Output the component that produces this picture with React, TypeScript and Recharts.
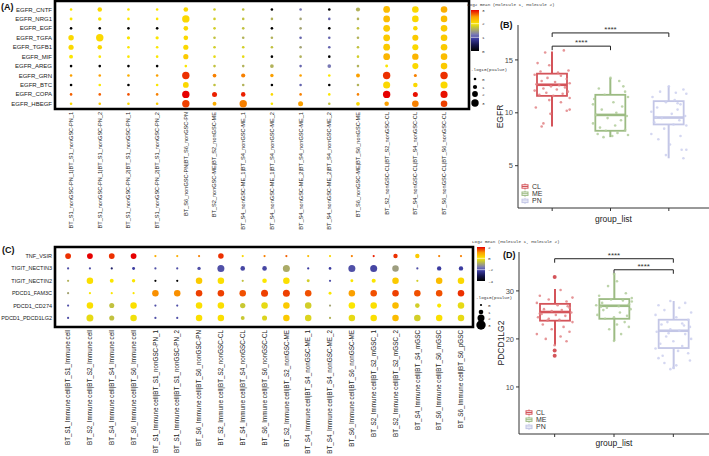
import React from 'react';
import {
  ScatterChart,
  Scatter,
  XAxis,
  YAxis,
  ReferenceArea,
  ComposedChart,
  Bar,
  ReferenceLine,
  ReferenceDot,
} from 'recharts';

const FONT = '"Liberation Sans", Arial, sans-serif';
const MONO = '"Liberation Mono", "DejaVu Sans Mono", monospace';

// ---- panel A: EGFR ligand pairs x nonGSC cluster pairs ----
const EGFR_PAIRS = [
  'EGFR_CNTF', 'EGFR_NRG1', 'EGFR_EGF', 'EGFR_TGFA', 'EGFR_TGFB1', 'EGFR_MIF',
  'EGFR_AREG', 'EGFR_GRN', 'EGFR_BTC', 'EGFR_COPA', 'EGFR_HBEGF',
];
const NONGSC_CLUSTERS = [
  'BT_S1_nonGSC-PN_1|BT_S1_nonGSC-PN_1',
  'BT_S1_nonGSC-PN_1|BT_S1_nonGSC-PN_2',
  'BT_S1_nonGSC-PN_2|BT_S1_nonGSC-PN_1',
  'BT_S1_nonGSC-PN_2|BT_S1_nonGSC-PN_2',
  'BT_S6_nonGSC-PN|BT_S6_nonGSC-PN',
  'BT_S2_nonGSC-ME|BT_S2_nonGSC-ME',
  'BT_S4_nonGSC-ME_1|BT_S4_nonGSC-ME_1',
  'BT_S4_nonGSC-ME_1|BT_S4_nonGSC-ME_2',
  'BT_S4_nonGSC-ME_2|BT_S4_nonGSC-ME_1',
  'BT_S4_nonGSC-ME_2|BT_S4_nonGSC-ME_2',
  'BT_S6_nonGSC-ME|BT_S6_nonGSC-ME',
  'BT_S2_nonGSC-CL|BT_S2_nonGSC-CL',
  'BT_S4_nonGSC-CL|BT_S4_nonGSC-CL',
  'BT_S6_nonGSC-CL|BT_S6_nonGSC-CL',
];
// log2 mean (colour), one row per pair
const EGFR_MEAN = [
  [2.0, 2.1, 2.0, 2.0, 2.1, 1.8, 1.7, 0, 1.2, 0, 1.6, 2.3, 2.1, 2.4],
  [2.0, 2.0, 2.0, 2.0, 2.1, 1.8, 1.7, 1.6, 1.5, 1.1, 1.6, 2.3, 2.1, 2.3],
  [0, 0, 0, 0, 2.1, 1.8, 1.7, 0, 1.5, 0, 1.7, 2.2, 2.1, 2.2],
  [2.1, 2.1, 2.0, 2.0, 2.1, 1.7, 1.6, 1.6, 1.1, 1.1, 1.6, 2.2, 2.2, 2.2],
  [2.1, 2.1, 2.0, 2.0, 2.1, 1.8, 1.8, 1.7, 1.5, 1.1, 1.7, 2.2, 2.1, 2.2],
  [2.0, 2.0, 2.0, 2.0, 2.2, 1.9, 1.9, 0, 1.6, 0, 1.8, 2.35, 2.35, 2.3],
  [0, 0, 0, 0, 2.0, 1.7, 1.6, 1.6, 1.1, 1.2, 1.6, 2.0, 2.1, 2.2],
  [2.5, 2.5, 2.4, 2.5, 2.85, 2.6, 2.6, 2.5, 2.5, 2.0, 2.5, 2.85, 2.6, 2.85],
  [0, 2.0, 0, 2.0, 2.1, 1.7, 1.6, 0, 1.1, 0, 1.6, 2.1, 2.1, 2.1],
  [2.7, 2.7, 2.75, 2.6, 3.0, 2.9, 2.9, 2.1, 2.6, 2.0, 2.6, 3.0, 2.95, 2.95],
  [2.1, 2.2, 2.1, 2.2, 2.8, 2.4, 2.6, 2.0, 2.5, 1.7, 2.1, 2.5, 2.6, 2.8],
];
// -log10(pvalue) (size)
const EGFR_PVAL = [
  [0, 1.2, 0, 0, 1.3, 0, 0, 0, 0, 0, 1, 2.6, 2.5, 2.5],
  [0.2, 0.6, 0, 0, 3, 0, 0, 0, 0, 0, 0, 2.6, 2.5, 2.5],
  [0, 0, 0, 0, 1.3, 0, 0, 0, 0, 0, 0, 2.6, 1.2, 2.5],
  [1.8, 3, 0.4, 0.4, 1.3, 0, 0, 0, 0, 0, 0, 2.6, 2.2, 2.5],
  [1.6, 1.2, 0, 0, 1.6, 0, 0, 0, 0, 0, 0, 2.6, 2.2, 2.5],
  [0.8, 0, 0, 0, 1.6, 0, 0, 0, 0, 0, 0, 2.6, 2.4, 2.5],
  [0, 0, 0, 0, 0, 0, 0, 0.7, 0, 0.7, 0, 0.2, 2.2, 2.5],
  [0, 0, 0, 0, 3, 0.7, 1, 0.5, 0, 0, 0.8, 3, 0.3, 3],
  [0, 0, 0, 0, 2, 0, 0, 0, 0, 0, 0, 2.8, 1.2, 2.8],
  [0, 0, 0, 0, 3, 1.5, 1.2, 0, 0, 0, 0, 3, 1.5, 2.8],
  [0, 0, 0, 0, 3, 0.8, 3, 0, 1.5, 0, 0.7, 1.2, 2.5, 2.5],
];

// ---- panel C: checkpoint pairs x immune cell cluster pairs ----
const CHECKPOINT_PAIRS = [
  'TNF_VSIR', 'TIGIT_NECTIN3', 'TIGIT_NECTIN2', 'PDCD1_FAM3C', 'PDCD1_CD274', 'PDCD1_PDCD1LG2',
];
const IMMUNE_CLUSTERS = [
  'BT_S1_Immune cell|BT_S1_Immune cell',
  'BT_S2_Immune cell|BT_S2_Immune cell',
  'BT_S4_Immune cell|BT_S4_Immune cell',
  'BT_S6_Immune cell|BT_S6_Immune cell',
  'BT_S1_Immune cell|BT_S1_nonGSC-PN_1',
  'BT_S1_Immune cell|BT_S1_nonGSC-PN_2',
  'BT_S6_Immune cell|BT_S6_nonGSC-PN',
  'BT_S2_Immune cell|BT_S2_nonGSC-CL',
  'BT_S4_Immune cell|BT_S4_nonGSC-CL',
  'BT_S6_Immune cell|BT_S6_nonGSC-CL',
  'BT_S2_Immune cell|BT_S2_nonGSC-ME',
  'BT_S4_Immune cell|BT_S4_nonGSC-ME_1',
  'BT_S4_Immune cell|BT_S4_nonGSC-ME_2',
  'BT_S6_Immune cell|BT_S6_nonGSC-ME',
  'BT_S2_Immune cell|BT_S2_mGSC_1',
  'BT_S2_Immune cell|BT_S2_mGSC_2',
  'BT_S4_Immune cell|BT_S4_mGSC',
  'BT_S6_Immune cell|BT_S6_mGSC',
  'BT_S6_Immune cell|BT_S6_pGSC',
];
const CHECKPOINT_MEAN = [
  [2.85, 3.0, 2.85, 3.0, 2.4, 2.4, 2.6, 2.85, 2.1, 2.6, 2.7, 2.3, 2.1, 2.6, 2.9, 2.85, 2.2, 2.6, 2.6],
  [1.0, 1.0, 0.6, 0.9, 1.0, 1.0, 1.0, 1.0, 0.95, 0.95, 1.55, 0.9, 0.9, 1.0, 0.95, 1.45, 1.0, 0.9, 0.9],
  [1.6, 2.05, 2.0, 2.0, 0, 0, 2.2, 2.05, 1.7, 2.0, 2.05, 1.8, 1.0, 2.0, 2.0, 2.2, 1.8, 2.3, 2.1],
  [1.5, 2.0, 2.0, 2.0, 2.55, 2.55, 2.8, 2.8, 2.75, 2.8, 2.8, 2.75, 2.0, 2.5, 2.75, 2.8, 2.75, 2.75, 2.85],
  [1.0, 2.05, 1.7, 2.05, 1.0, 1.0, 2.05, 2.05, 1.75, 1.9, 2.2, 1.8, 1.5, 2.0, 2.05, 2.3, 1.8, 2.0, 1.9],
  [1.0, 1.9, 1.7, 1.95, 1.0, 1.0, 2.05, 2.05, 1.75, 1.85, 2.2, 1.85, 1.6, 1.9, 2.05, 2.3, 1.8, 2.05, 1.9],
];
const CHECKPOINT_PVAL = [
  [1.5, 1.5, 1.5, 1.5, 0, 0, 0, 1.4, 0, 0, 0, 0, 0, 0, 0, 0.9, 0.9, 0, 0],
  [0, 0, 0, 0.3, 0, 0, 0.5, 2, 1, 1, 2, 0, 0.2, 2, 2, 1.8, 0, 0.9, 0.9],
  [0, 1.8, 0.7, 0.5, 0, 0, 1.8, 1.8, 0, 1, 1.8, 0.3, 0, 0.3, 0.8, 1.8, 0, 1.8, 1.8],
  [0, 0, 0, 0, 1.8, 1.8, 1.8, 1.8, 1.8, 2, 2, 1.8, 0.3, 1.8, 1.8, 1.8, 1.8, 1.8, 1.8],
  [0, 1.8, 1.2, 1.8, 0, 0, 1.8, 1.8, 1.3, 1.8, 1.8, 1.8, 0, 1.8, 1.8, 1.8, 1, 0.8, 1.8],
  [0, 2, 1.2, 1.8, 0, 0, 1.8, 1.8, 0.7, 1.2, 1.8, 1.8, 0, 1.8, 1.8, 1.8, 1.8, 1.8, 1.8],
];

// legend texts
const MEAN_TITLE = 'Log2 mean (Molecule 1, Molecule 2)';
const PVAL_TITLE = '-log10(pvalue)';
const A_BAR_LABELS = ['3', '2', '1', '0'];
const C_BAR_LABELS = ['2', '0', '-2', '-4'];
const PVAL_LABELS = [0, 1, 2, 3];

// ---- panels B and D: expression by subtype ----
const GROUPS = ['CL', 'ME', 'PN'];
// [lower whisker, Q1, median, Q3, upper whisker]
const EGFR_BOX = [
  [8.7, 11.6, 12.65, 13.7, 15.8],
  [7.7, 8.3, 9.8, 11.7, 13.3],
  [5.7, 8.9, 9.55, 11.1, 12.5],
];
const PDCD1LG2_BOX = [
  [18.7, 23.8, 25.6, 27.3, 30.4],
  [19.6, 24.2, 26.9, 28.3, 33.7],
  [13.7, 18.1, 21.7, 24.0, 27.9],
];
// jittered samples: [horizontal jitter, value]
const EGFR_CL = [[-0.12, 15.7], [0.2, 15.9], [-0.25, 14.7], [-0.05, 14.5], [0.28, 14.0], [-0.2, 13.9], [0.1, 13.8], [-0.3, 13.6], [0.15, 13.5], [-0.08, 13.3], [0.25, 13.2], [-0.18, 13.0], [0.05, 12.9], [0.3, 12.8], [-0.27, 12.7], [0.12, 12.6], [-0.02, 12.5], [0.22, 12.4], [-0.15, 12.3], [0.08, 12.2], [-0.3, 12.1], [0.27, 12.0], [-0.1, 11.9], [0.18, 11.8], [-0.22, 11.7], [0.02, 11.6], [0.3, 11.4], [-0.05, 11.2], [0.15, 11.0], [-0.28, 10.5], [0.3, 10.3], [0.25, 10.2], [-0.03, 9.9], [-0.15, 9.0], [-0.18, 8.7]];
const EGFR_ME = [[0.0, 13.3], [0.15, 13.0], [-0.2, 12.3], [0.25, 12.0], [-0.1, 11.7], [0.3, 11.5], [-0.28, 11.3], [0.05, 11.0], [0.2, 10.6], [-0.15, 10.3], [0.1, 10.0], [-0.25, 9.8], [0.28, 9.7], [-0.05, 9.5], [0.18, 9.3], [-0.3, 9.0], [0.08, 8.8], [-0.18, 8.6], [0.25, 8.4], [-0.08, 8.3], [0.12, 8.1], [-0.22, 8.0], [0.3, 7.9], [0.03, 7.8], [-0.12, 7.7], [0.22, 12.5], [-0.3, 10.8]];
const EGFR_PN = [[0.0, 12.5], [0.25, 12.2], [-0.15, 12.0], [0.3, 11.8], [-0.28, 11.5], [0.1, 11.2], [-0.05, 11.0], [0.2, 10.8], [-0.2, 10.5], [0.15, 10.3], [-0.3, 10.1], [0.05, 9.9], [0.28, 9.7], [-0.12, 9.5], [0.18, 9.3], [-0.25, 9.1], [0.08, 8.9], [0.3, 8.8], [-0.08, 8.5], [-0.3, 8.0], [0.2, 7.8], [-0.18, 7.5], [0.02, 7.0], [0.22, 6.5], [0.3, 6.5], [-0.05, 6.0], [0.25, 5.7], [0.12, 11.9], [-0.22, 9.6], [0.15, 10.9]];
const PDCD1LG2_CL = [[0.1, 30.2], [-0.25, 29], [0.3, 28.6], [-0.1, 28.2], [0.2, 27.8], [-0.3, 27.5], [0.05, 27], [0.25, 26.5], [-0.18, 26.2], [0.12, 26], [-0.05, 25.8], [0.28, 25.5], [-0.22, 25.2], [0.02, 25], [0.18, 24.8], [-0.28, 24.5], [0.08, 24], [-0.12, 23.8], [0.3, 23.5], [-0.2, 23], [0.15, 22.5], [-0.05, 22], [0.25, 21.5], [-0.3, 21], [0.1, 20.5], [-0.15, 20], [0.2, 19.5], [0.0, 18.7], [-0.1, 24.2], [0.22, 26.8], [-0.25, 25.3]];
const PDCD1LG2_ME = [[0.0, 33.5], [0.05, 32], [-0.1, 31], [0.2, 29.5], [-0.25, 29], [0.3, 28.5], [-0.05, 28.2], [0.15, 28], [-0.2, 27.5], [0.25, 27.2], [-0.3, 27], [0.08, 26.8], [-0.12, 26.5], [0.28, 26.2], [-0.18, 26], [0.1, 25.5], [-0.28, 25], [0.22, 24.8], [0.0, 24.5], [-0.15, 24.2], [0.18, 23.5], [0.05, 23], [0.25, 22.5], [-0.08, 22], [0.12, 21], [0.0, 19.6], [-0.22, 26.7], [0.3, 27.8]];
const PDCD1LG2_PN = [[-0.05, 27.9], [0.2, 27.5], [-0.25, 27], [0.1, 26.5], [-0.15, 26], [0.3, 25.5], [-0.3, 25], [0.05, 24.5], [0.25, 24], [-0.1, 23.5], [0.15, 23.2], [-0.2, 23], [0.28, 22.5], [-0.05, 22], [0.1, 21.7], [-0.28, 21.5], [0.2, 21], [-0.12, 20.5], [0.3, 20], [0.0, 19.5], [-0.22, 19], [0.15, 18.5], [-0.3, 18], [0.08, 17.5], [0.25, 17], [-0.18, 16.5], [-0.25, 16], [0.28, 15.5], [-0.15, 15], [0.05, 14.5], [0.0, 14], [-0.05, 13.7], [0.18, 22.8], [-0.08, 21.2]];
const PDCD1LG2_CL_OUTLIERS = [32.9, 17.6, 16.5];
// significance brackets: [from group, to group, height]
const EGFR_SIG = [[1, 3, 17.55], [1, 2, 16.3]];
const PDCD1LG2_SIG = [[1, 3, 36.7], [2, 3, 34.4]];
const SIG_LABEL = '****';

const GROUP_STROKE = ['#d4545a', '#9cbb83', '#c3c6e6'];
const GROUP_POINT = ['#e28486', '#b2cc9b', '#ccd0ee'];

const COLOR_STOPS: [number, string][] = [
  [0, '#000000'],
  [0.45, '#15154c'],
  [0.9, '#3c3ca0'],
  [1.2, '#7878b4'],
  [1.5, '#a4a474'],
  [1.75, '#c8c832'],
  [2.0, '#fbe600'],
  [2.5, '#fba000'],
  [3.0, '#e60000'],
];

function hexRgb(h: string) {
  return [1, 3, 5].map((i) => parseInt(h.slice(i, i + 2), 16));
}

function meanColor(v: number) {
  for (let i = 1; i < COLOR_STOPS.length; i++) {
    const [v1, c1] = COLOR_STOPS[i];
    const [v0, c0] = COLOR_STOPS[i - 1];
    if (v <= v1 || i === COLOR_STOPS.length - 1) {
      const t = Math.max(0, Math.min(1, (v - v0) / (v1 - v0)));
      const a = hexRgb(c0);
      const b = hexRgb(c1);
      return `rgb(${a.map((x, k) => Math.round(x + (b[k] - x) * t)).join(',')})`;
    }
  }
  return '#000';
}

const radiusA = (p: number) => 1.3 + p * 0.8;
const radiusC = (p: number) => 1.1 + p * 1.2;

function toPoints(mean: number[][], pval: number[][]) {
  return mean.flatMap((row, ri) =>
    row.map((m, ci) => ({ x: ci + 1, y: ri + 1, mean: m, p: pval[ri][ci] }))
  );
}

function ColTick(props: any) {
  const { x, y, payload, labels, fontPx } = props;
  const label = labels[Math.round(payload.value) - 1];
  return (
    <text
      x={x}
      y={y}
      dy="0.35em"
      transform={`rotate(-90, ${x}, ${y})`}
      textAnchor="end"
      fontSize={fontPx}
      fill="#1a1a1a"
      fontFamily={FONT}
    >
      {label}
    </text>
  );
}

function RowTick(props: any) {
  const { x, y, payload, labels, fontPx } = props;
  const label = labels[Math.round(payload.value) - 1];
  return (
    <text x={x} y={y} dy="0.35em" textAnchor="end" fontSize={fontPx} fill="#1a1a1a" fontFamily={FONT}>
      {label}
    </text>
  );
}

function DotPlot(props: any) {
  const { rows, cols, mean, pval, width, height, top, right, xAxisHeight, xDomain, yDomain, radius, colFont, rowFont } = props;
  const pts = toPoints(mean, pval);
  return (
    <ScatterChart width={width} height={height} margin={{ top, right, bottom: 0, left: 0 }}>
      <XAxis
        type="number"
        dataKey="x"
        domain={xDomain}
        allowDataOverflow
        ticks={cols.map((_: string, i: number) => i + 1)}
        interval={0}
        axisLine={false}
        tickLine={false}
        tickSize={0}
        tickMargin={3}
        height={xAxisHeight}
        tick={<ColTick labels={cols} fontPx={colFont} />}
      />
      <YAxis
        type="number"
        dataKey="y"
        domain={yDomain}
        allowDataOverflow
        reversed
        ticks={rows.map((_: string, i: number) => i + 1)}
        interval={0}
        axisLine={false}
        tickLine={false}
        tickSize={0}
        tickMargin={3}
        width={55}
        tick={<RowTick labels={rows} fontPx={rowFont} />}
      />
      <ReferenceArea
        x1={xDomain[0]}
        x2={xDomain[1]}
        y1={yDomain[0]}
        y2={yDomain[1]}
        fill="none"
        fillOpacity={0}
        stroke="#000"
        strokeWidth={2.6}
        ifOverflow="visible"
      />
      <Scatter
        data={pts}
        isAnimationActive={false}
        shape={(s: any) => (
          <circle cx={s.cx} cy={s.cy} r={radius(s.payload.p)} fill={meanColor(s.payload.mean)} />
        )}
      />
    </ScatterChart>
  );
}

function BoxShape(props: any) {
  const { x, y, width, height, payload } = props;
  const top = Math.min(y, y + height);
  const bottom = Math.max(y, y + height);
  const [lo, hi] = payload.whisker;
  const py = (v: number) => bottom - ((v - lo) / (hi - lo)) * (bottom - top);
  const cx = x + width / 2;
  const c = payload.color;
  return (
    <g>
      <line x1={cx} x2={cx} y1={top} y2={py(payload.q3)} stroke={c} strokeWidth={2} />
      <line x1={cx} x2={cx} y1={py(payload.q1)} y2={bottom} stroke={c} strokeWidth={2} />
      <rect x={x} y={py(payload.q3)} width={width} height={py(payload.q1) - py(payload.q3)} fill="none" stroke={c} strokeWidth={1.8} />
      <line x1={x} x2={x + width} y1={py(payload.med)} y2={py(payload.med)} stroke={c} strokeWidth={2.6} />
    </g>
  );
}

const EmptyTick = () => <g />;

function BoxPanel(props: any) {
  const { stats, samples, outliers, yDomain, yTicks, yTitle, sig, width, height, top, yAxisWidth, pad, xTitleOffset } = props;
  const boxData = GROUPS.map((g, i) => ({
    g,
    whisker: [stats[i][0], stats[i][4]],
    q1: stats[i][1],
    med: stats[i][2],
    q3: stats[i][3],
    color: GROUP_STROKE[i],
  }));
  const axisStroke = '#333';
  return (
    <ComposedChart width={width} height={height} data={boxData} margin={{ top, right: 0, bottom: 0, left: 0 }}>
      <XAxis
        xAxisId="cat"
        dataKey="g"
        type="category"
        padding={pad}
        height={22}
        tick={EmptyTick}
        tickSize={3}
        stroke={axisStroke}
        label={{ value: 'group_list', position: 'insideBottom', offset: xTitleOffset, fontSize: 8.5, fill: '#222', fontFamily: FONT }}
      />
      <XAxis xAxisId="num" dataKey="x" type="number" domain={[0.5, 3.5]} padding={pad} hide />
      <YAxis
        domain={yDomain}
        allowDataOverflow
        ticks={yTicks}
        width={yAxisWidth}
        tickSize={3}
        stroke={axisStroke}
        tick={{ fontSize: 7.5, fill: '#4d4d4d', fontFamily: FONT }}
        label={{ value: yTitle, angle: -90, position: 'center', dx: 1, fontSize: 8.5, fill: '#222', fontFamily: FONT }}
      />
      <Bar xAxisId="cat" dataKey="whisker" barSize={30} shape={BoxShape} isAnimationActive={false} />
      {samples.map((pts: number[][], gi: number) => (
        <Scatter
          key={GROUPS[gi]}
          xAxisId="num"
          dataKey="y"
          data={pts.map(([off, v]) => ({ x: gi + 1 + off, y: v }))}
          isAnimationActive={false}
          shape={(s: any) => <circle cx={s.cx} cy={s.cy} r={1.3} fill={GROUP_POINT[gi]} fillOpacity={0.85} />}
        />
      ))}
      {outliers && (
        <Scatter
          xAxisId="num"
          dataKey="y"
          data={outliers.map((v: number) => ({ x: 1, y: v }))}
          isAnimationActive={false}
          shape={(s: any) => <circle cx={s.cx} cy={s.cy} r={2} fill={GROUP_STROKE[0]} />}
        />
      )}
      {sig.map(([a, b, h]: number[], i: number) => {
        const tickLen = (yDomain[1] - yDomain[0]) * 0.022;
        return (
          <React.Fragment key={i}>
            <ReferenceLine xAxisId="num" segment={[{ x: a, y: h }, { x: b, y: h }]} stroke="#222" strokeWidth={1} ifOverflow="visible" />
            <ReferenceLine xAxisId="num" segment={[{ x: a, y: h }, { x: a, y: h - tickLen }]} stroke="#222" strokeWidth={1} ifOverflow="visible" />
            <ReferenceLine xAxisId="num" segment={[{ x: b, y: h }, { x: b, y: h - tickLen }]} stroke="#222" strokeWidth={1} ifOverflow="visible" />
            <ReferenceDot
              xAxisId="num"
              x={(a + b) / 2}
              y={h}
              r={0}
              fill="none"
              stroke="none"
              ifOverflow="visible"
              label={{ value: SIG_LABEL, position: 'top', offset: 1, fontSize: 8, fill: '#333', fontFamily: FONT }}
            />
          </React.Fragment>
        );
      })}
    </ComposedChart>
  );
}

function GroupLegend({ left, top }: { left: number; top: number }) {
  return (
    <svg style={{ position: 'absolute', left, top }} width={40} height={24}>
      {GROUPS.map((g, i) => (
        <g key={g} transform={`translate(0, ${i * 7.2})`}>
          <line x1={4} x2={4} y1={0.5} y2={6.5} stroke={GROUP_STROKE[i]} strokeWidth={1} />
          <rect x={1} y={1.8} width={6} height={3.4} fill="#fff" stroke={GROUP_STROKE[i]} strokeWidth={1} />
          <line x1={1} x2={7} y1={3.5} y2={3.5} stroke={GROUP_STROKE[i]} strokeWidth={1} />
          <text x={11} y={6} fontSize={7} fill="#333" fontFamily={FONT}>{g}</text>
        </g>
      ))}
    </svg>
  );
}

function KeyLegend(props: any) {
  const { id, titleX, titleY, barX, barY, barW, barH, barLabels, pTitleX, pTitleY, dotX, dotYs, radius } = props;
  return (
    <g>
      <defs>
        <linearGradient id={id} x1="0" y1="0" x2="0" y2="1">
          {COLOR_STOPS.slice().reverse().map(([v, c]) => (
            <stop key={v} offset={1 - v / 3} stopColor={c} />
          ))}
        </linearGradient>
      </defs>
      <text x={titleX} y={titleY} fontSize={4.3} fill="#333" fontFamily={MONO}>{MEAN_TITLE}</text>
      <rect x={barX} y={barY} width={barW} height={barH} fill={`url(#${id})`} />
      {barLabels.map((l: string, i: number) => {
        const ty = barY + (i * barH) / (barLabels.length - 1);
        return (
          <g key={l}>
            {i > 0 && i < barLabels.length - 1 && (
              <line x1={barX} x2={barX + barW} y1={ty} y2={ty} stroke="#fff" strokeWidth={0.6} />
            )}
            <text x={barX + barW + 3} y={ty + 1.5} fontSize={4.3} fill="#333" fontFamily={MONO}>{l}</text>
          </g>
        );
      })}
      <text x={pTitleX} y={pTitleY} fontSize={4.3} fill="#333" fontFamily={MONO}>{PVAL_TITLE}</text>
      {PVAL_LABELS.map((p, i) => (
        <g key={p}>
          <circle cx={dotX} cy={dotYs[i]} r={radius(p)} fill="#000" />
          <text x={dotX + 7} y={dotYs[i] + 1.5} fontSize={4.3} fill="#333" fontFamily={MONO}>{p}</text>
        </g>
      ))}
    </g>
  );
}

export default function App() {
  return (
    <div style={{ position: 'absolute', left: 0, top: 0, width: 709, height: 456, background: '#fff', overflow: 'hidden', fontFamily: FONT }}>
      <div style={{ position: 'absolute', left: 0, top: 0 }}>
        <DotPlot
          rows={EGFR_PAIRS}
          cols={NONGSC_CLUSTERS}
          mean={EGFR_MEAN}
          pval={EGFR_PVAL}
          width={475}
          height={232}
          top={1}
          right={6}
          xAxisHeight={123}
          xDomain={[0.44, 14.87]}
          yDomain={[0.1, 11.55]}
          radius={radiusA}
          colFont={5.6}
          rowFont={6}
        />
      </div>
      <div style={{ position: 'absolute', left: 0, top: 240 }}>
        <DotPlot
          rows={CHECKPOINT_PAIRS}
          cols={IMMUNE_CLUSTERS}
          mean={CHECKPOINT_MEAN}
          pval={CHECKPOINT_PVAL}
          width={480}
          height={216}
          top={7}
          right={7}
          xAxisHeight={129}
          xDomain={[0.4, 19.55]}
          yDomain={[0.27, 6.73]}
          radius={radiusC}
          colFont={6.3}
          rowFont={5.5}
        />
      </div>
      <div style={{ position: 'absolute', left: 480, top: 0 }}>
        <BoxPanel
          stats={EGFR_BOX}
          samples={[EGFR_CL, EGFR_ME, EGFR_PN]}
          yDomain={[1, 18.3]}
          yTicks={[5, 10, 15]}
          yTitle="EGFR"
          sig={EGFR_SIG}
          width={229}
          height={230}
          top={25}
          yAxisWidth={38}
          pad={{ left: 5, right: 11 }}
          xTitleOffset={8}
        />
      </div>
      <div style={{ position: 'absolute', left: 480, top: 230 }}>
        <BoxPanel
          stats={PDCD1LG2_BOX}
          samples={[PDCD1LG2_CL, PDCD1LG2_ME, PDCD1LG2_PN]}
          outliers={PDCD1LG2_CL_OUTLIERS}
          yDomain={[0.2, 38.1]}
          yTicks={[10, 20, 30]}
          yTitle="PDCD1LG2"
          sig={PDCD1LG2_SIG}
          width={229}
          height={226}
          top={22}
          yAxisWidth={39}
          pad={{ left: 6, right: 6 }}
          xTitleOffset={10}
        />
      </div>
      <GroupLegend left={521} top={183} />
      <GroupLegend left={525} top={409} />
      <svg style={{ position: 'absolute', left: 0, top: 0, pointerEvents: 'none' }} width={709} height={456}>
        <KeyLegend
          id="gradA"
          titleX={467}
          titleY={6}
          barX={471}
          barY={10}
          barW={8}
          barH={41}
          barLabels={A_BAR_LABELS}
          pTitleX={471}
          pTitleY={71}
          dotX={475}
          dotYs={[79, 87, 94, 103]}
          radius={radiusA}
        />
        <KeyLegend
          id="gradC"
          titleX={472}
          titleY={243}
          barX={477}
          barY={247}
          barW={8}
          barH={34}
          barLabels={C_BAR_LABELS}
          pTitleX={476}
          pTitleY={299}
          dotX={481}
          dotYs={[305, 312, 318, 325]}
          radius={radiusC}
        />
        <text x={1} y={10} fontSize={9} fontWeight="bold" fill="#111" fontFamily={FONT}>(A)</text>
        <text x={500} y={28} fontSize={9} fontWeight="bold" fill="#111" fontFamily={FONT}>(B)</text>
        <text x={2} y={253} fontSize={9} fontWeight="bold" fill="#111" fontFamily={FONT}>(C)</text>
        <text x={503} y={258} fontSize={9} fontWeight="bold" fill="#111" fontFamily={FONT}>(D)</text>
      </svg>
    </div>
  );
}
